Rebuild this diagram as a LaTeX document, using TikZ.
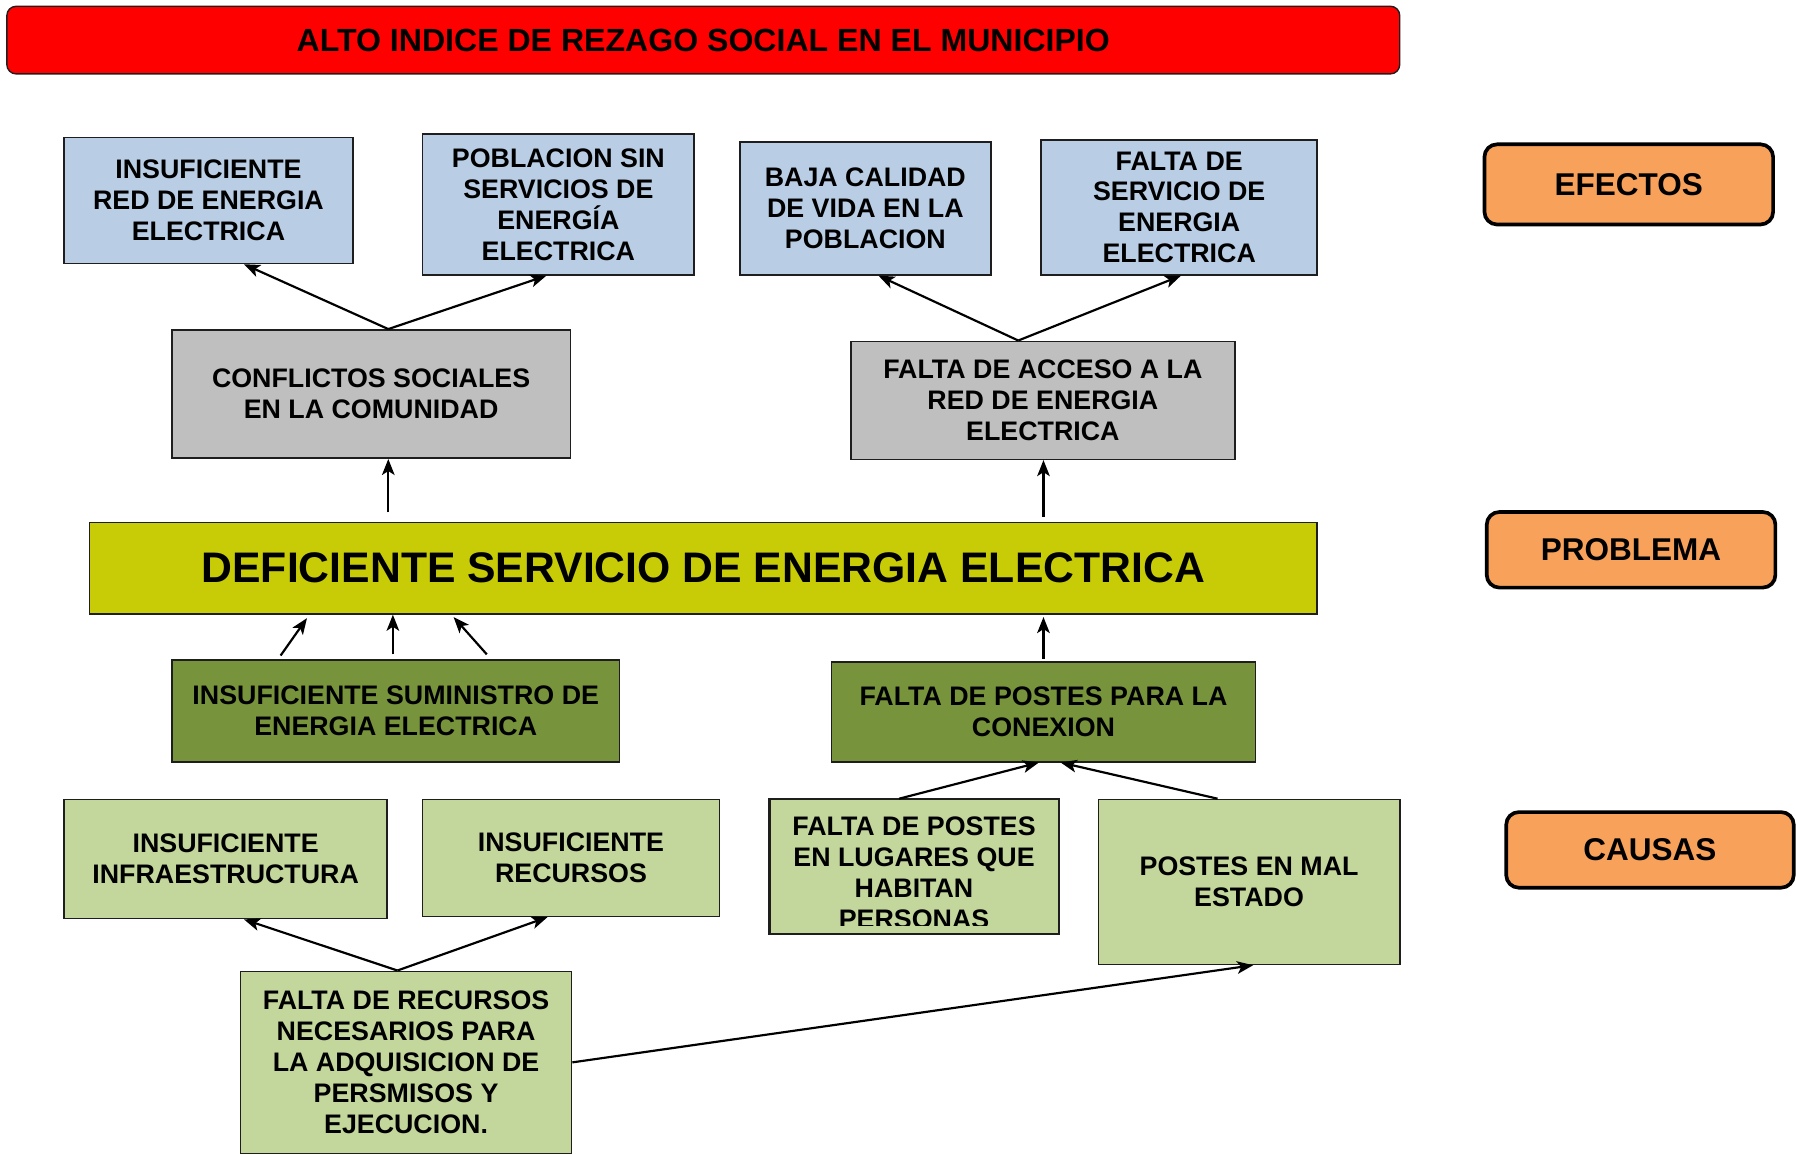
\documentclass[tikz,border=0pt]{standalone}
\usepackage{fontspec}
\setmainfont{Liberation Sans}
\usetikzlibrary{arrows.meta}
\definecolor{cred}{RGB}{255,0,0}
\definecolor{corange}{RGB}{247,161,90}
\definecolor{cblue}{RGB}{185,205,229}
\definecolor{cgray}{RGB}{191,191,191}
\definecolor{cyel}{RGB}{200,204,6}
\definecolor{cdark}{RGB}{119,147,60}
\definecolor{clight}{RGB}{195,214,155}
\definecolor{cedge}{RGB}{30,30,30}
\begin{document}
\begin{tikzpicture}[x=1pt,y=-1pt,
  box/.style={draw=cedge,line width=1.4pt,inner sep=0pt,align=center,
    font=\fontsize{23.4}{27}\selectfont\bfseries},
  eff/.style={box,fill=cblue},
  mid/.style={box,fill=cgray},
  dark/.style={box,fill=cdark},
  light/.style={box,fill=clight},
  tag/.style={draw=black,line width=3.2pt,rounded corners=11pt,fill=corange,inner sep=0pt,
    font=\fontsize{27.5}{32}\selectfont\bfseries},
  arr/.style={line width=1.9pt,-{Stealth[length=14pt,width=11pt,inset=3.5pt]}}]
\useasboundingbox (0,0) rectangle (1568,1008);
% title
\node[draw=cedge,line width=1.2pt,rounded corners=8pt,fill=cred,minimum width=1216pt,minimum height=59pt,inner sep=0pt,
  font=\fontsize{28}{32}\selectfont\bfseries] (title) at (614,35) {ALTO INDICE DE REZAGO SOCIAL EN EL MUNICIPIO};
% tags
\node[tag,minimum width=252pt,minimum height=70pt] (tefe) at (1422,161) {EFECTOS};
\node[tag,minimum width=252pt,minimum height=66pt] (tpro) at (1424,480) {PROBLEMA};
\node[tag,minimum width=251pt,minimum height=66pt] (tcau) at (1440.5,742) {CAUSAS};
% effects
\node[eff,minimum width=252pt,minimum height=110pt] (e1) at (182,175) {INSUFICIENTE\\RED DE ENERGIA\\ELECTRICA};
\node[eff,minimum width=237pt,minimum height=123pt] (e2) at (487.5,178.5) {POBLACION SIN\\SERVICIOS DE\\ENERGÍA\\ELECTRICA};
\node[eff,minimum width=219pt,minimum height=116pt] (e3) at (755.5,182) {BAJA CALIDAD\\DE VIDA EN LA\\POBLACION};
\node[eff,minimum width=241pt,minimum height=118pt] (e4) at (1029.5,181) {FALTA DE\\SERVICIO DE\\ENERGIA\\ELECTRICA};
% gray
\node[mid,minimum width=348pt,minimum height=112pt] (g1) at (324,344) {CONFLICTOS SOCIALES\\EN LA COMUNIDAD};
\node[mid,minimum width=335pt,minimum height=103pt] (g2) at (910.5,349.5) {FALTA DE ACCESO A LA\\RED DE ENERGIA\\ELECTRICA};
% main problem
\node[box,fill=cyel,minimum width=1072pt,minimum height=80pt,font=\fontsize{37.3}{42}\selectfont\bfseries] (m) at (614,496) {DEFICIENTE SERVICIO DE ENERGIA ELECTRICA};
% causes
\node[dark,minimum width=391pt,minimum height=89pt] (c1) at (345.5,620.5) {INSUFICIENTE SUMINISTRO DE\\ENERGIA ELECTRICA};
\node[dark,minimum width=370pt,minimum height=87pt] (c2) at (911,621.5) {FALTA DE POSTES PARA LA\\CONEXION};
\node[light,minimum width=282pt,minimum height=104pt] (l1) at (197,750) {INSUFICIENTE\\INFRAESTRUCTURA};
\node[light,minimum width=259pt,minimum height=102pt] (l2) at (498.5,749) {INSUFICIENTE\\RECURSOS};
\node[light,minimum width=252pt,minimum height=117pt] (l3) at (798,756.5) {};
\begin{scope}
  \clip (l3.north west) rectangle ([yshift=8pt]l3.south east);
  \node[align=center,inner sep=0pt,font=\fontsize{23.4}{27}\selectfont\bfseries] (l3t) at (798,762) {FALTA DE POSTES\\EN LUGARES QUE\\HABITAN\\PERSONAS};
\end{scope}
\draw[draw=cedge,line width=1.4pt] (l3.north west) rectangle (l3.south east);
\node[light,minimum width=263pt,minimum height=144pt] (l4) at (1090.5,770) {POSTES EN MAL\\ESTADO};
\node[light,minimum width=289pt,minimum height=159pt] (l5) at (354.5,927.5) {FALTA DE RECURSOS\\NECESARIOS PARA\\LA ADQUISICION DE\\PERSMISOS Y\\EJECUCION.};
% arrows (effects)
\draw[arr] ([xshift=15pt]g1.north) -- ([xshift=31pt]e1.south);
\draw[arr] ([xshift=15pt]g1.north) -- ([xshift=-10.5pt]e2.south);
\draw[arr] ([xshift=-21.5pt]g2.north) -- ([xshift=11.5pt]e3.south);
\draw[arr] ([xshift=-21.5pt]g2.north) -- ([xshift=1.5pt]e4.south);
\draw[arr] ([xshift=-275pt,yshift=8pt]m.north) -- ([xshift=15pt]g1.south);
\draw[arr] ([xshift=297pt,yshift=4pt]m.north) -- ([xshift=0.5pt]g2.south);
% arrows (causes)
\draw[arr] ([xshift=-100.5pt,yshift=3pt]c1.north) -- ([xshift=-346pt,yshift=-3pt]m.south);
\draw[arr] ([xshift=-2.5pt,yshift=4pt]c1.north) -- ([xshift=-271pt]m.south);
\draw[arr] ([xshift=79.5pt,yshift=4pt]c1.north) -- ([xshift=-218pt,yshift=-2pt]m.south);
\draw[arr] ([yshift=2pt]c2.north) -- ([xshift=297pt,yshift=-2pt]m.south);
\draw[arr] ([xshift=-13pt]l3.north) -- ([xshift=-4pt]c2.south);
\draw[arr] ([xshift=-27.5pt]l4.north) -- ([xshift=15pt]c2.south);
\draw[arr] ([xshift=-7.5pt]l5.north) -- ([xshift=16pt]l1.south);
\draw[arr] ([xshift=-7.5pt]l5.north) -- ([xshift=-20.5pt]l2.south);
\draw[arr] (l5.east) -- ([xshift=3.5pt]l4.south);
\end{tikzpicture}
\end{document}
